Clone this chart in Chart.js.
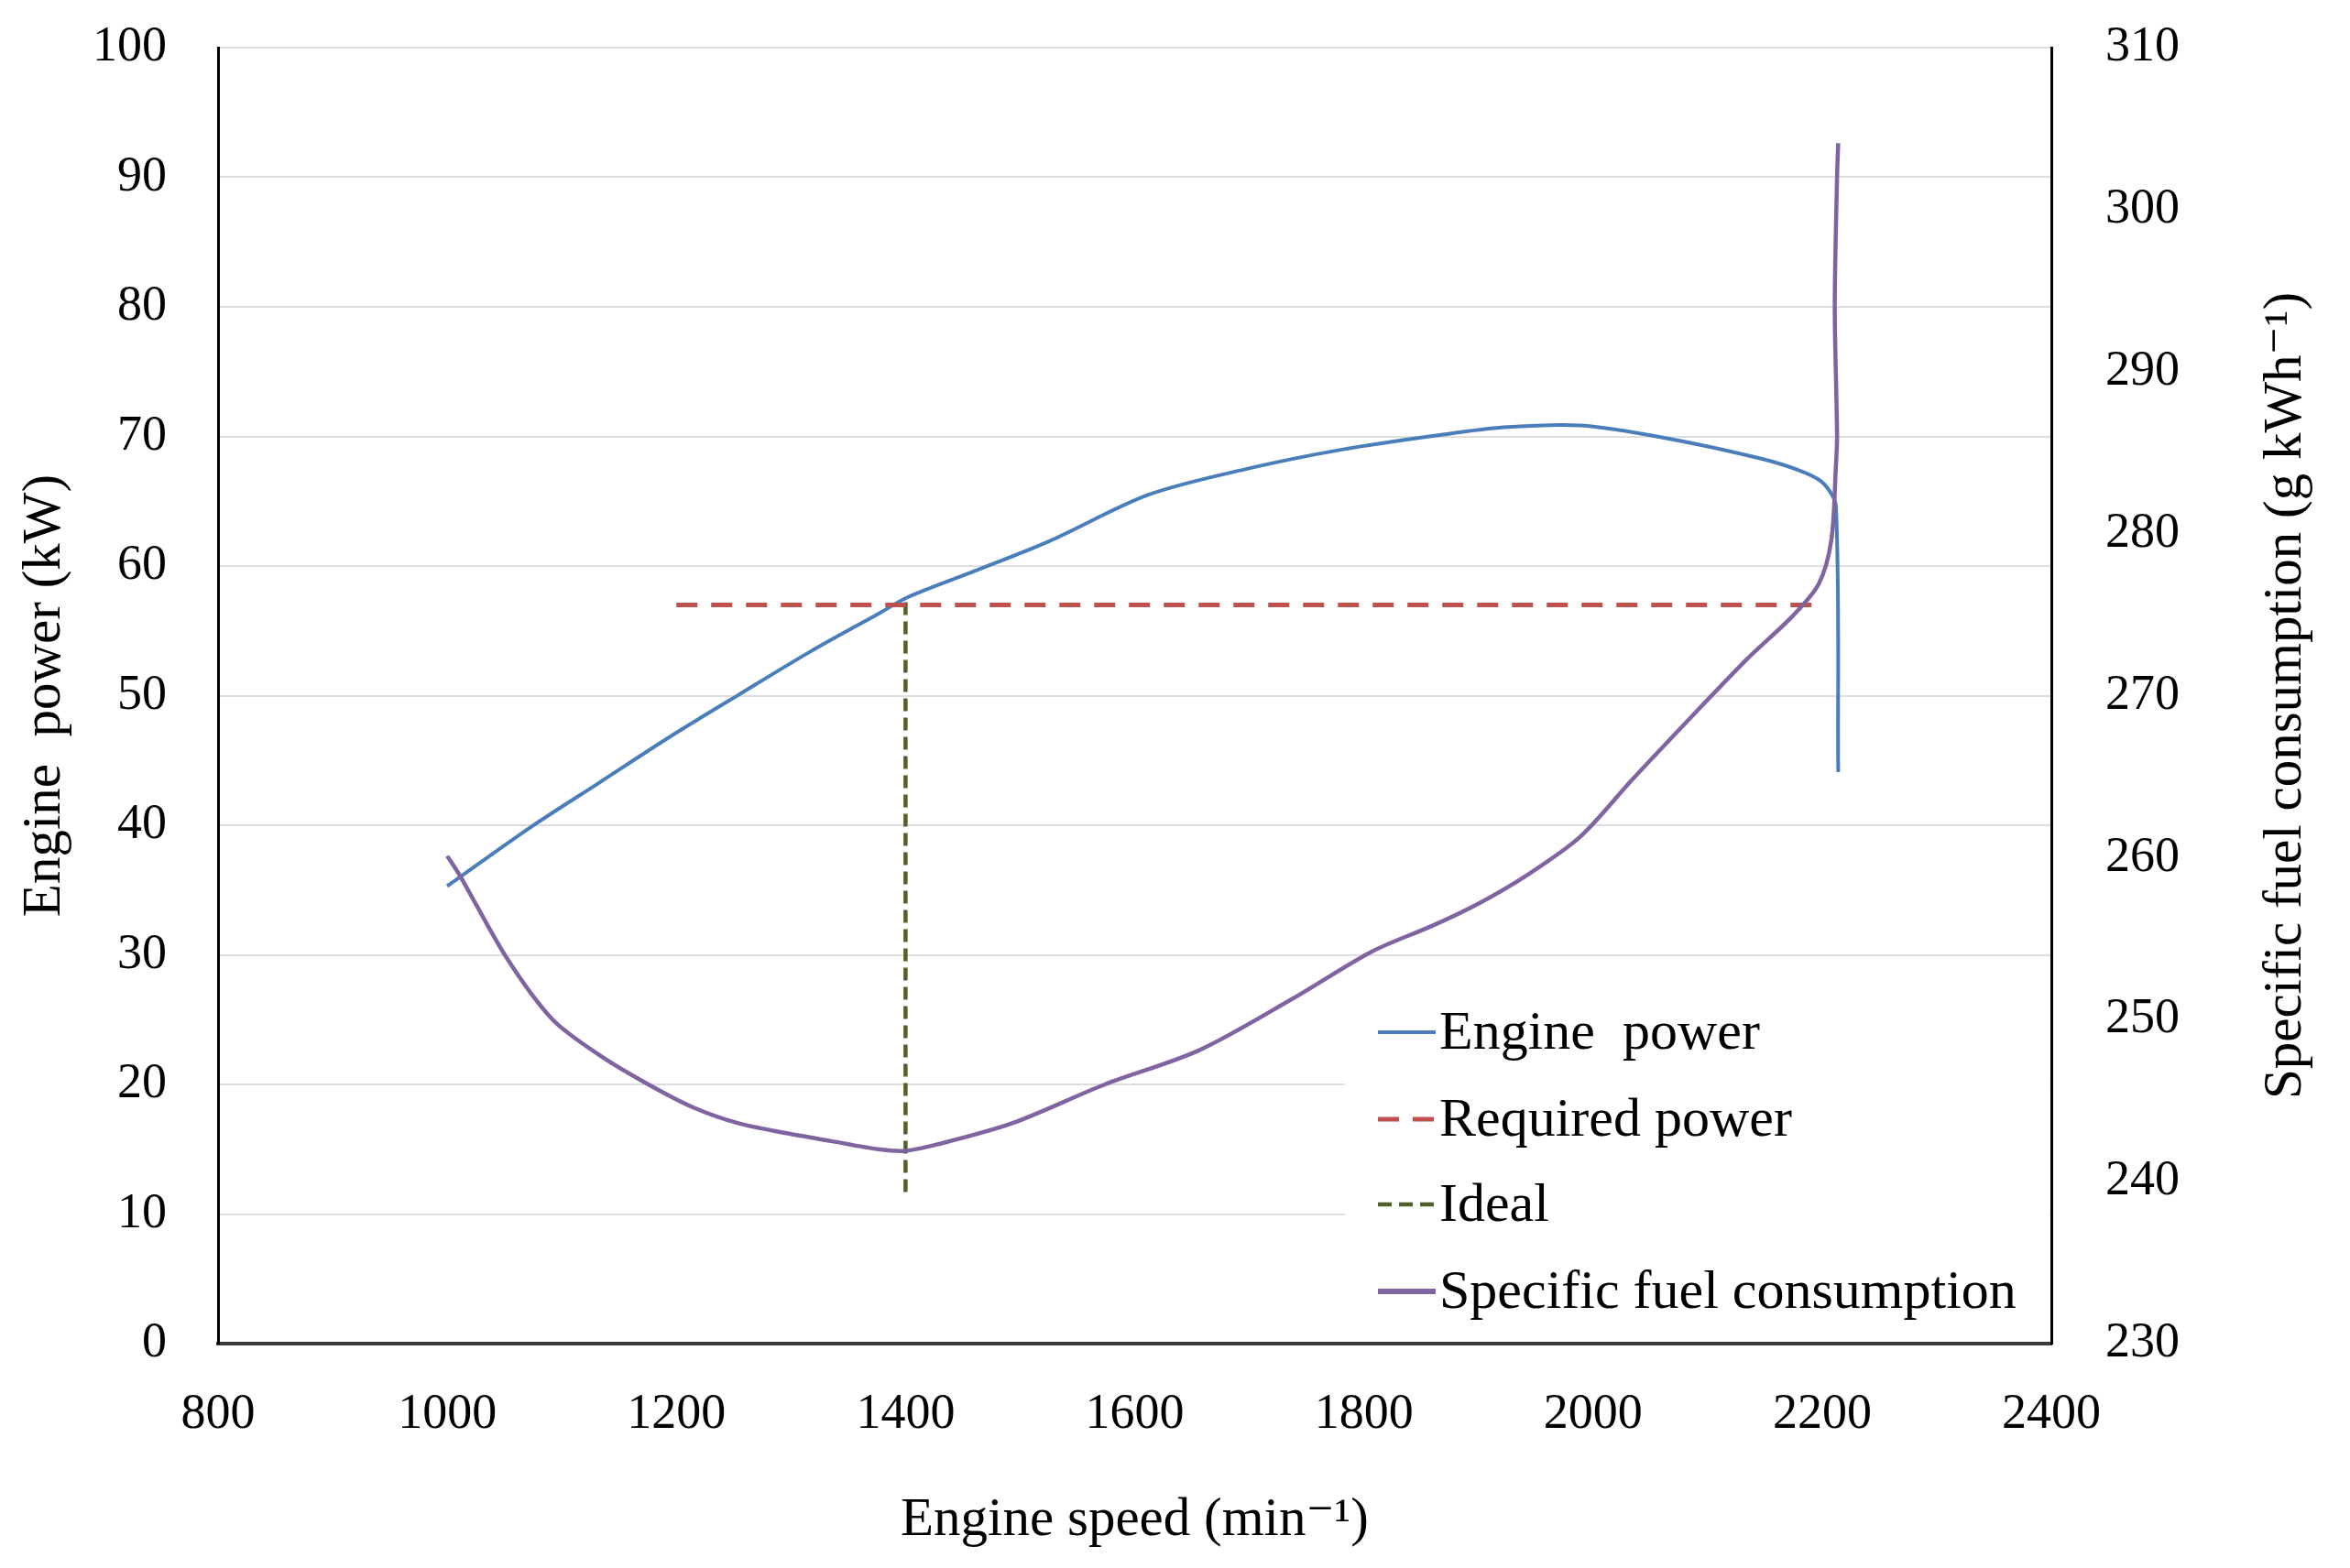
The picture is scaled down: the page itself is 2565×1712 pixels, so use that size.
<!DOCTYPE html>
<html>
<head>
<meta charset="utf-8">
<script src="https://cdn.jsdelivr.net/npm/chart.js@4.4.1/dist/chart.umd.min.js"></script>
<style>
html,body{margin:0;padding:0;background:#ffffff;}
#wrap{width:2565px;height:1712px;position:relative;}
</style>
</head>
<body>
<div id="wrap"><canvas id="c" width="2565" height="1712"></canvas></div>
<script>
// ---- Data ----
const powerSpeed  = [1000, 1072, 1133, 1194, 1255, 1317, 1378, 1402, 1460, 1525, 1612, 1698, 1782, 1866, 1922, 1989, 2062, 2146, 2185, 2202, 2212, 2214];
const powerValues = [35.3, 39.8, 43.3, 46.8, 50.1, 53.4, 56.4, 57.6, 59.6, 61.9, 65.5, 67.5, 69.0, 70.1, 70.7, 70.85, 69.9, 68.3, 67.2, 66.3, 64.6, 44.1];

const sfcSpeed  = [1000, 1011, 1052, 1092, 1133, 1173, 1214, 1254, 1295, 1335, 1376, 1400, 1428, 1493, 1574, 1656, 1738, 1807, 1860, 1901, 1942, 1989, 2034, 2090, 2135, 2174, 2197, 2208, 2212, 2213, 2211, 2213, 2214];
const sfcValues = [260.1, 258.9, 253.8, 250.0, 247.8, 246.1, 244.6, 243.6, 243.0, 242.5, 242.0, 241.9, 242.3, 243.6, 246.0, 248.1, 251.3, 254.2, 255.8, 257.2, 258.9, 261.3, 264.8, 269.0, 272.3, 274.9, 276.9, 279.6, 284.2, 286.0, 294.0, 302.0, 304.1];

const requiredSpeed  = [1200, 2199];
const requiredValues = [57.0, 57.0];

const idealSpeed  = [1400, 1400];
const idealValues = [11.7, 57.2];

const seriesLabels = ['Engine  power', 'Required power', 'Ideal', 'Specific fuel consumption'];
const xTickValues  = [800, 1000, 1200, 1400, 1600, 1800, 2000, 2200, 2400];
const yTickValues  = [0, 10, 20, 30, 40, 50, 60, 70, 80, 90, 100];
const y2TickValues = [230, 240, 250, 260, 270, 280, 290, 300, 310];

const xTitle  = 'Engine speed (min\u207B\u00B9)';
const yTitle  = 'Engine  power (kW)';
const y2Title = 'Specific fuel consumption (g kWh\u207B\u00B9)';

// ---- build ----
const pts = (xs, ys) => xs.map((x, i) => ({x: x, y: ys[i]}));
const FONT = '"Liberation Serif", "DejaVu Serif", serif';
const FS = 54;      // tick labels
const FT = 59;      // axis titles
const FL = 60;      // legend

const legendPlugin = {
  id: 'boxLegend',
  afterDatasetsDraw(chart) {
    const ctx = chart.ctx;
    const area = chart.chartArea;
    ctx.save();
    ctx.fillStyle = '#ffffff';
    ctx.fillRect(1468, 1068, area.right - 1468 - 2, area.bottom - 1068 - 3);
    const rows = [1127, 1222, 1315, 1410];
    chart.data.datasets.forEach((ds, i) => {
      const y = rows[i];
      ctx.beginPath();
      ctx.strokeStyle = ds.borderColor;
      ctx.lineWidth = ds.legendWidth;
      ctx.setLineDash(ds.legendDash || []);
      ctx.lineDashOffset = 0;
      ctx.moveTo(1504, y);
      ctx.lineTo(1567, y);
      ctx.stroke();
      ctx.setLineDash([]);
      ctx.fillStyle = '#000000';
      ctx.font = FL + 'px ' + FONT;
      ctx.textAlign = 'left';
      ctx.textBaseline = 'middle';
      ctx.fillText(ds.label, 1571, y + 2);
    });
    // right axis title, reading bottom-to-top like the reference
    ctx.translate(2495, (area.top + area.bottom) / 2);
    ctx.rotate(-Math.PI / 2);
    ctx.font = FT + 'px ' + FONT;
    ctx.textAlign = 'center';
    ctx.textBaseline = 'middle';
    ctx.fillStyle = '#000000';
    ctx.fillText(y2Title, 0, 0);
    ctx.restore();
  }
};

const noPadV = (w) => (s) => { s.width = w; s.paddingTop = 0; s.paddingBottom = 0; };

new Chart(document.getElementById('c'), {
  type: 'line',
  data: {
    datasets: [
      { label: seriesLabels[0], data: pts(powerSpeed, powerValues), yAxisID: 'y',
        borderColor: '#4A7EBB', borderWidth: 4, tension: 0.3, pointRadius: 0, fill: false,
        legendWidth: 4, order: 2 },
      { label: seriesLabels[1], data: pts(requiredSpeed, requiredValues), yAxisID: 'y',
        borderColor: '#C0504D', borderWidth: 5, borderDash: [23, 15], tension: 0, pointRadius: 0, fill: false,
        borderCapStyle: 'butt', legendWidth: 5, legendDash: [23, 15], order: 1 },
      { label: seriesLabels[2], data: pts(idealSpeed, idealValues), yAxisID: 'y',
        borderColor: '#4F6228', borderWidth: 4.5, borderDash: [14, 7], tension: 0, pointRadius: 0, fill: false,
        legendWidth: 4.5, legendDash: [15, 8], order: 3 },
      { label: seriesLabels[3], data: pts(sfcSpeed, sfcValues), yAxisID: 'y2',
        borderColor: '#8064A2', borderWidth: 4.5, tension: 0.3, pointRadius: 0, fill: false,
        legendWidth: 6, order: 0 }
    ]
  },
  options: {
    responsive: false,
    animation: false,
    devicePixelRatio: 1,
    layout: { padding: { top: 52, left: 0, right: 0, bottom: 0 } },
    plugins: { legend: { display: false }, tooltip: { enabled: false } },
    scales: {
      x: {
        type: 'linear', position: 'bottom', min: 800, max: 2400,
        afterBuildTicks: (s) => { s.ticks = xTickValues.map(v => ({value: v})); },
        afterFit: (s) => { s.height = 245; s.paddingLeft = 0; s.paddingRight = 0; },
        grid: { display: false, drawTicks: false },
        border: { display: true, color: '#3a3a3a', width: 4 },
        ticks: { color: '#000', font: { family: FONT, size: FS }, padding: 45, maxRotation: 0,
                 callback: (v) => String(v) },
        title: { display: true, text: xTitle, color: '#000', font: { family: FONT, size: FT }, padding: { top: 0, bottom: 16 } }
      },
      y: {
        type: 'linear', position: 'left', min: 0, max: 100,
        afterBuildTicks: (s) => { s.ticks = yTickValues.map(v => ({value: v})); },
        afterFit: noPadV(238),
        grid: { display: true, color: '#dedede', lineWidth: 2, drawTicks: false },
        border: { display: true, color: '#000', width: 3 },
        ticks: { color: '#000', font: { family: FONT, size: FS }, padding: 56, callback: (v) => String(v) },
        title: { display: true, text: yTitle, color: '#000', font: { family: FONT, size: FT }, padding: { top: 14, bottom: 0 } }
      },
      y2: {
        type: 'linear', position: 'right', min: 230, max: 310,
        afterBuildTicks: (s) => { s.ticks = y2TickValues.map(v => ({value: v})); },
        afterFit: noPadV(326),
        grid: { display: false, drawTicks: false, drawOnChartArea: false },
        border: { display: true, color: '#000', width: 3 },
        ticks: { color: '#000', font: { family: FONT, size: FS }, padding: 59, callback: (v) => String(v) },
        title: { display: false, text: y2Title }
      }
    }
  },
  plugins: [legendPlugin]
});
</script>
</body>
</html>
